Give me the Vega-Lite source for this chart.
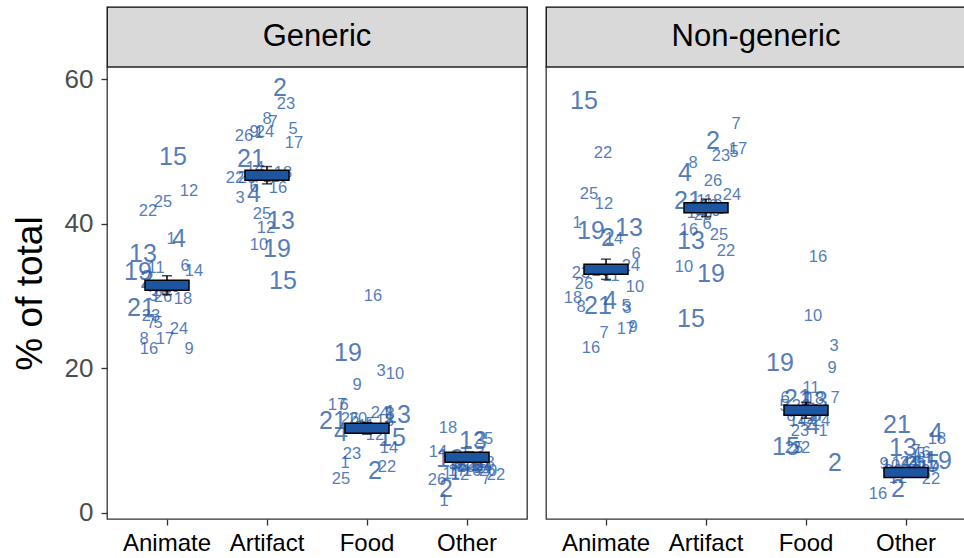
{
"$schema":"https://vega.github.io/schema/vega-lite/v6.json",
"padding":{"left":10,"top":6,"right":0,"bottom":0},
"background":"white",
"config":{"font":"Liberation Sans"},
"datasets":{
"pts":[
{"p":"G","c":"Animate","id":"15","v":49.2,"j":0.06},
{"p":"G","c":"Animate","id":"12","v":44.5,"j":0.22},
{"p":"G","c":"Animate","id":"25","v":43.0,"j":-0.04},
{"p":"G","c":"Animate","id":"22","v":41.8,"j":-0.19},
{"p":"G","c":"Animate","id":"4","v":37.9,"j":0.12},
{"p":"G","c":"Animate","id":"1","v":37.9,"j":0.04},
{"p":"G","c":"Animate","id":"13","v":35.8,"j":-0.24},
{"p":"G","c":"Animate","id":"19","v":33.3,"j":-0.29},
{"p":"G","c":"Animate","id":"2","v":32.2,"j":-0.20},
{"p":"G","c":"Animate","id":"11","v":33.9,"j":-0.11},
{"p":"G","c":"Animate","id":"6","v":34.1,"j":0.18},
{"p":"G","c":"Animate","id":"14","v":33.5,"j":0.27},
{"p":"G","c":"Animate","id":"3","v":30.0,"j":-0.14},
{"p":"G","c":"Animate","id":"26","v":29.9,"j":-0.04},
{"p":"G","c":"Animate","id":"10","v":30.7,"j":-0.06},
{"p":"G","c":"Animate","id":"18","v":29.6,"j":0.16},
{"p":"G","c":"Animate","id":"21","v":28.3,"j":-0.26},
{"p":"G","c":"Animate","id":"23","v":27.2,"j":-0.16},
{"p":"G","c":"Animate","id":"7","v":26.3,"j":-0.16},
{"p":"G","c":"Animate","id":"5","v":26.3,"j":-0.09},
{"p":"G","c":"Animate","id":"24","v":25.4,"j":0.12},
{"p":"G","c":"Animate","id":"17","v":24.1,"j":-0.02},
{"p":"G","c":"Animate","id":"8","v":24.1,"j":-0.23},
{"p":"G","c":"Animate","id":"16","v":22.7,"j":-0.18},
{"p":"G","c":"Animate","id":"9","v":22.7,"j":0.22},
{"p":"G","c":"Animate","id":"20","v":31.2,"j":0.04},
{"p":"G","c":"Artifact","id":"2","v":58.8,"j":0.13},
{"p":"G","c":"Artifact","id":"23","v":56.5,"j":0.19},
{"p":"G","c":"Artifact","id":"8","v":54.5,"j":0.0},
{"p":"G","c":"Artifact","id":"7","v":54.1,"j":0.06},
{"p":"G","c":"Artifact","id":"5","v":53.1,"j":0.26},
{"p":"G","c":"Artifact","id":"17","v":51.2,"j":0.27},
{"p":"G","c":"Artifact","id":"26","v":52.1,"j":-0.23},
{"p":"G","c":"Artifact","id":"9","v":52.7,"j":-0.13},
{"p":"G","c":"Artifact","id":"1","v":52.5,"j":-0.08},
{"p":"G","c":"Artifact","id":"24","v":52.7,"j":-0.02},
{"p":"G","c":"Artifact","id":"21","v":48.9,"j":-0.16},
{"p":"G","c":"Artifact","id":"14","v":47.7,"j":-0.12},
{"p":"G","c":"Artifact","id":"22","v":46.3,"j":-0.32},
{"p":"G","c":"Artifact","id":"20","v":46.3,"j":-0.20},
{"p":"G","c":"Artifact","id":"6","v":45.1,"j":-0.13},
{"p":"G","c":"Artifact","id":"16","v":44.9,"j":0.11},
{"p":"G","c":"Artifact","id":"4","v":44.1,"j":-0.13},
{"p":"G","c":"Artifact","id":"3","v":43.5,"j":-0.27},
{"p":"G","c":"Artifact","id":"25","v":41.3,"j":-0.05},
{"p":"G","c":"Artifact","id":"13","v":40.4,"j":0.14},
{"p":"G","c":"Artifact","id":"12","v":39.4,"j":-0.01},
{"p":"G","c":"Artifact","id":"10","v":37.1,"j":-0.08},
{"p":"G","c":"Artifact","id":"19","v":36.5,"j":0.10},
{"p":"G","c":"Artifact","id":"15","v":32.1,"j":0.16},
{"p":"G","c":"Artifact","id":"11","v":46.5,"j":0.04},
{"p":"G","c":"Artifact","id":"18","v":47.0,"j":0.16},
{"p":"G","c":"Food","id":"16","v":30.0,"j":0.06},
{"p":"G","c":"Food","id":"19","v":22.1,"j":-0.19},
{"p":"G","c":"Food","id":"3","v":19.6,"j":0.14},
{"p":"G","c":"Food","id":"10","v":19.2,"j":0.28},
{"p":"G","c":"Food","id":"9","v":17.7,"j":-0.10},
{"p":"G","c":"Food","id":"17","v":14.9,"j":-0.30},
{"p":"G","c":"Food","id":"6","v":14.9,"j":-0.23},
{"p":"G","c":"Food","id":"21","v":12.7,"j":-0.34},
{"p":"G","c":"Food","id":"26","v":13.0,"j":-0.17},
{"p":"G","c":"Food","id":"20","v":13.0,"j":-0.09},
{"p":"G","c":"Food","id":"24","v":13.8,"j":0.13},
{"p":"G","c":"Food","id":"8","v":13.7,"j":0.23},
{"p":"G","c":"Food","id":"13","v":13.5,"j":0.30},
{"p":"G","c":"Food","id":"4","v":11.1,"j":-0.26},
{"p":"G","c":"Food","id":"12","v":10.8,"j":0.08},
{"p":"G","c":"Food","id":"15","v":10.4,"j":0.25},
{"p":"G","c":"Food","id":"14","v":9.0,"j":0.22},
{"p":"G","c":"Food","id":"23","v":8.2,"j":-0.15},
{"p":"G","c":"Food","id":"1","v":6.9,"j":-0.22},
{"p":"G","c":"Food","id":"2","v":5.8,"j":0.08},
{"p":"G","c":"Food","id":"22","v":6.4,"j":0.20},
{"p":"G","c":"Food","id":"25","v":4.7,"j":-0.26},
{"p":"G","c":"Food","id":"7","v":11.8,"j":-0.07},
{"p":"G","c":"Food","id":"11","v":12.0,"j":-0.01},
{"p":"G","c":"Food","id":"18","v":12.7,"j":0.18},
{"p":"G","c":"Food","id":"5","v":12.3,"j":0.03},
{"p":"G","c":"Other","id":"18","v":11.8,"j":-0.19},
{"p":"G","c":"Other","id":"13","v":10.0,"j":0.06},
{"p":"G","c":"Other","id":"25","v":10.2,"j":0.17},
{"p":"G","c":"Other","id":"14","v":8.4,"j":-0.29},
{"p":"G","c":"Other","id":"19","v":7.5,"j":-0.17},
{"p":"G","c":"Other","id":"4","v":6.8,"j":0.18},
{"p":"G","c":"Other","id":"21","v":6.9,"j":0.03},
{"p":"G","c":"Other","id":"15","v":7.2,"j":-0.05},
{"p":"G","c":"Other","id":"26","v":4.6,"j":-0.30},
{"p":"G","c":"Other","id":"2","v":3.3,"j":-0.21},
{"p":"G","c":"Other","id":"1","v":1.7,"j":-0.23},
{"p":"G","c":"Other","id":"11","v":5.4,"j":-0.16},
{"p":"G","c":"Other","id":"12","v":5.3,"j":-0.07},
{"p":"G","c":"Other","id":"22","v":5.3,"j":0.29},
{"p":"G","c":"Other","id":"7","v":4.7,"j":0.19},
{"p":"G","c":"Other","id":"16","v":5.8,"j":0.05},
{"p":"G","c":"Other","id":"10","v":6.4,"j":-0.01},
{"p":"G","c":"Other","id":"6","v":6.4,"j":0.11},
{"p":"G","c":"Other","id":"8","v":6.9,"j":0.23},
{"p":"G","c":"Other","id":"9","v":6.9,"j":-0.09},
{"p":"G","c":"Other","id":"3","v":8.3,"j":0.13},
{"p":"G","c":"Other","id":"5","v":8.3,"j":0.01},
{"p":"G","c":"Other","id":"17","v":5.8,"j":-0.10},
{"p":"G","c":"Other","id":"20","v":5.8,"j":0.21},
{"p":"G","c":"Other","id":"23","v":6.6,"j":0.08},
{"p":"G","c":"Other","id":"24","v":6.2,"j":0.16},
{"p":"N","c":"Animate","id":"15","v":57.0,"j":-0.22},
{"p":"N","c":"Animate","id":"22","v":49.8,"j":-0.03},
{"p":"N","c":"Animate","id":"25","v":44.1,"j":-0.17},
{"p":"N","c":"Animate","id":"12","v":42.7,"j":-0.02},
{"p":"N","c":"Animate","id":"1","v":40.1,"j":-0.29},
{"p":"N","c":"Animate","id":"19","v":39.0,"j":-0.15},
{"p":"N","c":"Animate","id":"2","v":38.0,"j":0.02},
{"p":"N","c":"Animate","id":"13","v":39.4,"j":0.23},
{"p":"N","c":"Animate","id":"14","v":37.9,"j":0.08},
{"p":"N","c":"Animate","id":"6","v":35.8,"j":0.30},
{"p":"N","c":"Animate","id":"24","v":34.1,"j":0.25},
{"p":"N","c":"Animate","id":"23","v":33.2,"j":-0.25},
{"p":"N","c":"Animate","id":"26","v":31.7,"j":-0.22},
{"p":"N","c":"Animate","id":"11","v":32.8,"j":0.05},
{"p":"N","c":"Animate","id":"10","v":31.2,"j":0.29},
{"p":"N","c":"Animate","id":"18","v":29.7,"j":-0.33},
{"p":"N","c":"Animate","id":"8","v":28.5,"j":-0.25},
{"p":"N","c":"Animate","id":"21","v":28.6,"j":-0.08},
{"p":"N","c":"Animate","id":"4","v":29.3,"j":0.04},
{"p":"N","c":"Animate","id":"5","v":28.6,"j":0.20},
{"p":"N","c":"Animate","id":"3","v":28.3,"j":0.21},
{"p":"N","c":"Animate","id":"7","v":24.9,"j":-0.02},
{"p":"N","c":"Animate","id":"9","v":25.7,"j":0.27},
{"p":"N","c":"Animate","id":"17","v":25.4,"j":0.20},
{"p":"N","c":"Animate","id":"16","v":22.8,"j":-0.15},
{"p":"N","c":"Animate","id":"20","v":33.5,"j":-0.05},
{"p":"N","c":"Artifact","id":"7","v":53.8,"j":0.30},
{"p":"N","c":"Artifact","id":"2","v":51.4,"j":0.07},
{"p":"N","c":"Artifact","id":"23","v":49.4,"j":0.15},
{"p":"N","c":"Artifact","id":"17","v":50.3,"j":0.32},
{"p":"N","c":"Artifact","id":"5","v":49.9,"j":0.28},
{"p":"N","c":"Artifact","id":"8","v":48.4,"j":-0.13},
{"p":"N","c":"Artifact","id":"4","v":47.0,"j":-0.21},
{"p":"N","c":"Artifact","id":"26","v":45.9,"j":0.07},
{"p":"N","c":"Artifact","id":"24","v":44.0,"j":0.26},
{"p":"N","c":"Artifact","id":"21","v":43.1,"j":-0.18},
{"p":"N","c":"Artifact","id":"1","v":43.1,"j":-0.05},
{"p":"N","c":"Artifact","id":"3","v":42.0,"j":0.15},
{"p":"N","c":"Artifact","id":"16","v":39.1,"j":-0.17},
{"p":"N","c":"Artifact","id":"6","v":40.0,"j":0.01},
{"p":"N","c":"Artifact","id":"13","v":37.6,"j":-0.15},
{"p":"N","c":"Artifact","id":"25","v":38.4,"j":0.13},
{"p":"N","c":"Artifact","id":"22","v":36.2,"j":0.20},
{"p":"N","c":"Artifact","id":"10","v":34.0,"j":-0.22},
{"p":"N","c":"Artifact","id":"19","v":33.0,"j":0.05},
{"p":"N","c":"Artifact","id":"15","v":26.8,"j":-0.15},
{"p":"N","c":"Artifact","id":"9","v":41.8,"j":0.10},
{"p":"N","c":"Artifact","id":"11","v":42.3,"j":-0.08},
{"p":"N","c":"Artifact","id":"12","v":42.4,"j":0.03},
{"p":"N","c":"Artifact","id":"14","v":41.5,"j":-0.10},
{"p":"N","c":"Artifact","id":"18","v":43.1,"j":0.07},
{"p":"N","c":"Artifact","id":"20","v":41.2,"j":-0.03},
{"p":"N","c":"Food","id":"16","v":35.4,"j":0.12},
{"p":"N","c":"Food","id":"10","v":27.2,"j":0.07},
{"p":"N","c":"Food","id":"3","v":23.1,"j":0.28},
{"p":"N","c":"Food","id":"19","v":20.7,"j":-0.26},
{"p":"N","c":"Food","id":"9","v":20.0,"j":0.26},
{"p":"N","c":"Food","id":"11","v":17.3,"j":0.05},
{"p":"N","c":"Food","id":"6","v":15.9,"j":-0.21},
{"p":"N","c":"Food","id":"21","v":15.8,"j":-0.08},
{"p":"N","c":"Food","id":"13","v":15.5,"j":0.08},
{"p":"N","c":"Food","id":"18","v":15.8,"j":0.09},
{"p":"N","c":"Food","id":"7","v":15.9,"j":0.29},
{"p":"N","c":"Food","id":"5","v":14.8,"j":-0.22},
{"p":"N","c":"Food","id":"14","v":12.7,"j":-0.08},
{"p":"N","c":"Food","id":"4","v":12.0,"j":0.07},
{"p":"N","c":"Food","id":"23","v":11.3,"j":-0.06},
{"p":"N","c":"Food","id":"1","v":11.3,"j":0.17},
{"p":"N","c":"Food","id":"15","v":9.1,"j":-0.20},
{"p":"N","c":"Food","id":"25","v":9.0,"j":-0.12},
{"p":"N","c":"Food","id":"22","v":9.0,"j":-0.05},
{"p":"N","c":"Food","id":"2","v":6.9,"j":0.29},
{"p":"N","c":"Food","id":"8","v":13.4,"j":-0.15},
{"p":"N","c":"Food","id":"12","v":13.0,"j":0.0},
{"p":"N","c":"Food","id":"17","v":13.4,"j":0.10},
{"p":"N","c":"Food","id":"20","v":14.1,"j":0.03},
{"p":"N","c":"Food","id":"24","v":12.7,"j":0.15},
{"p":"N","c":"Food","id":"26","v":14.8,"j":-0.05},
{"p":"N","c":"Other","id":"21","v":12.2,"j":-0.09},
{"p":"N","c":"Other","id":"4","v":11.1,"j":0.30},
{"p":"N","c":"Other","id":"18","v":10.2,"j":0.31},
{"p":"N","c":"Other","id":"13","v":9.0,"j":-0.03},
{"p":"N","c":"Other","id":"7","v":8.6,"j":0.10},
{"p":"N","c":"Other","id":"6","v":8.3,"j":0.20},
{"p":"N","c":"Other","id":"5","v":8.2,"j":0.15},
{"p":"N","c":"Other","id":"19","v":7.2,"j":0.32},
{"p":"N","c":"Other","id":"15","v":6.8,"j":0.20},
{"p":"N","c":"Other","id":"9","v":6.8,"j":-0.22},
{"p":"N","c":"Other","id":"10","v":6.5,"j":-0.15},
{"p":"N","c":"Other","id":"22","v":4.7,"j":0.25},
{"p":"N","c":"Other","id":"2","v":3.3,"j":-0.08},
{"p":"N","c":"Other","id":"16","v":2.6,"j":-0.28},
{"p":"N","c":"Other","id":"12","v":4.8,"j":-0.08},
{"p":"N","c":"Other","id":"1","v":6.5,"j":0.0},
{"p":"N","c":"Other","id":"3","v":6.9,"j":0.07},
{"p":"N","c":"Other","id":"11","v":6.5,"j":0.13},
{"p":"N","c":"Other","id":"14","v":6.9,"j":-0.05},
{"p":"N","c":"Other","id":"17","v":6.4,"j":0.23},
{"p":"N","c":"Other","id":"20","v":5.8,"j":0.05},
{"p":"N","c":"Other","id":"23","v":5.8,"j":0.15},
{"p":"N","c":"Other","id":"24","v":6.9,"j":0.03},
{"p":"N","c":"Other","id":"25","v":6.9,"j":0.10},
{"p":"N","c":"Other","id":"26","v":5.8,"j":-0.13}
],
"summ":[
{"p":"G","c":"Animate","mean":31.5,"lo":30.2,"hi":32.8},
{"p":"G","c":"Artifact","mean":46.7,"lo":45.5,"hi":47.9},
{"p":"G","c":"Food","mean":11.7,"lo":10.9,"hi":12.5},
{"p":"G","c":"Other","mean":7.7,"lo":7.1,"hi":8.3},
{"p":"N","c":"Animate","mean":33.7,"lo":32.3,"hi":35.1},
{"p":"N","c":"Artifact","mean":42.2,"lo":41.0,"hi":43.4},
{"p":"N","c":"Food","mean":14.2,"lo":13.1,"hi":15.3},
{"p":"N","c":"Other","mean":5.6,"lo":5.1,"hi":6.1}
]
},
"columns":2,
"spacing":{"row":0,"column":19},
"bounds":"flush",
"concat":[
 {"width":420,"height":60,"view":{"fill":"#d9d9d9","stroke":"black","strokeWidth":1.3},
  "data":{"values":[{"label":"Generic"}]},
  "mark":{"type":"text","fontSize":31,"color":"black"},
  "encoding":{"text":{"field":"label"}}},
 {"width":420,"height":60,"view":{"fill":"#d9d9d9","stroke":"black","strokeWidth":1.3},
  "data":{"values":[{"label":"Non-generic"}]},
  "mark":{"type":"text","fontSize":31,"color":"black"},
  "encoding":{"text":{"field":"label"}}},
 {"width":420,"height":452,"view":{"stroke":"#333333","strokeWidth":1.3,"fill":"white"},
  "layer":[
   {"data":{"name":"pts"},"transform":[{"filter":"datum.p==='G'"}],
    "mark":{"type":"text","color":"#2B5DAA","opacity":0.8},
    "encoding":{
     "x":{"field":"c","type":"nominal","scale":{"type":"band","domain":["Animate","Artifact","Food","Other"],"paddingInner":0,"paddingOuter":0.1},
          "axis":{"title":null,"labelAngle":0,"labelFontSize":24,"labelColor":"black","labelPadding":6,"tickSize":6,"tickColor":"#333333","tickWidth":1.3,"domain":false,"grid":false}},
     "xOffset":{"field":"j","type":"quantitative","scale":{"domain":[-0.5,0.5],"range":[0,100]}},
     "y":{"field":"v","type":"quantitative","title":"% of total","scale":{"domain":[-0.83,61.66],"nice":false,"zero":false},
          "axis":{"values":[0,20,40,60],"titleFontSize":37,"titleFontWeight":"normal","titleColor":"black","titleX":-58,"labelFontSize":26,"labelColor":"#4d4d4d","labelPadding":8,"tickSize":6,"tickColor":"#333333","tickWidth":1.3,"domain":false,"grid":false}},
     "text":{"field":"id"},
     "size":{"condition":{"test":"indexof(['2','4','13','15','19','21'], datum.id) >= 0","value":25},"value":16.5}
    }},
   {"data":{"name":"summ"},"transform":[{"filter":"datum.p==='G'"}],
    "mark":{"type":"errorbar","ticks":{"size":10,"color":"black","thickness":1.5},"rule":{"color":"black","strokeWidth":1.5}},
    "encoding":{"x":{"field":"c","type":"nominal"},"y":{"field":"lo","type":"quantitative","title":"% of total"},"y2":{"field":"hi"}}},
   {"data":{"name":"summ"},"transform":[{"filter":"datum.p==='G'"}],
    "mark":{"type":"tick","orient":"horizontal","size":44,"thickness":10,"color":"#1E55A0","stroke":"black","strokeWidth":1.5,"opacity":1},
    "encoding":{"x":{"field":"c","type":"nominal"},"y":{"field":"mean","type":"quantitative","title":"% of total"}}}
  ]},
 {"width":420,"height":452,"view":{"stroke":"#333333","strokeWidth":1.3,"fill":"white"},
  "layer":[
   {"data":{"name":"pts"},"transform":[{"filter":"datum.p==='N'"}],
    "mark":{"type":"text","color":"#2B5DAA","opacity":0.8},
    "encoding":{
     "x":{"field":"c","type":"nominal","scale":{"type":"band","domain":["Animate","Artifact","Food","Other"],"paddingInner":0,"paddingOuter":0.1},
          "axis":{"title":null,"labelAngle":0,"labelFontSize":24,"labelColor":"black","labelPadding":6,"tickSize":6,"tickColor":"#333333","tickWidth":1.3,"domain":false,"grid":false}},
     "xOffset":{"field":"j","type":"quantitative","scale":{"domain":[-0.5,0.5],"range":[0,100]}},
     "y":{"field":"v","type":"quantitative","scale":{"domain":[-0.83,61.66],"nice":false,"zero":false},"axis":null},
     "text":{"field":"id"},
     "size":{"condition":{"test":"indexof(['2','4','13','15','19','21'], datum.id) >= 0","value":25},"value":16.5}
    }},
   {"data":{"name":"summ"},"transform":[{"filter":"datum.p==='N'"}],
    "mark":{"type":"errorbar","ticks":{"size":10,"color":"black","thickness":1.5},"rule":{"color":"black","strokeWidth":1.5}},
    "encoding":{"x":{"field":"c","type":"nominal"},"y":{"field":"lo","type":"quantitative"},"y2":{"field":"hi"}}},
   {"data":{"name":"summ"},"transform":[{"filter":"datum.p==='N'"}],
    "mark":{"type":"tick","orient":"horizontal","size":44,"thickness":10,"color":"#1E55A0","stroke":"black","strokeWidth":1.5,"opacity":1},
    "encoding":{"x":{"field":"c","type":"nominal"},"y":{"field":"mean","type":"quantitative"}}}
  ]}
]
}
